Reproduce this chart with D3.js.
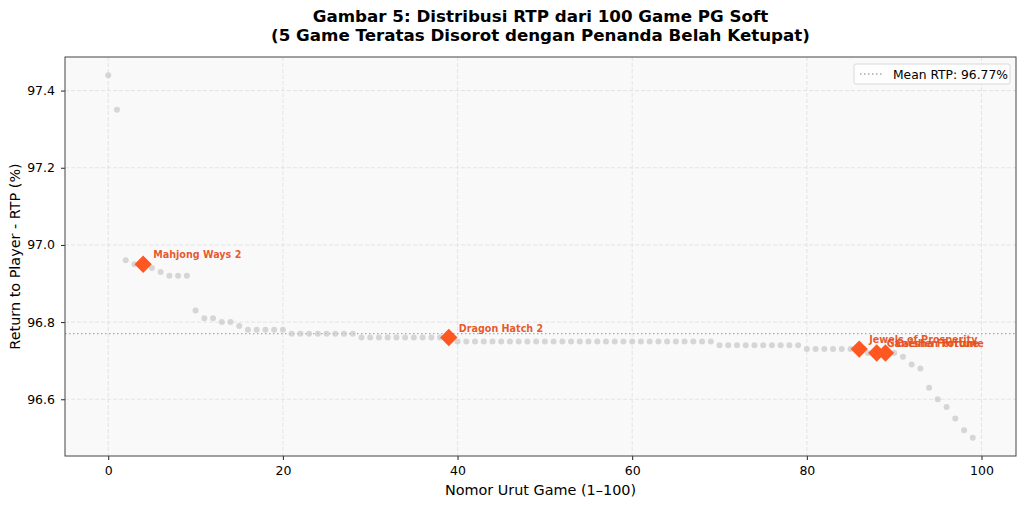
<!DOCTYPE html>
<html><head><meta charset="utf-8">
<script src="https://cdn.jsdelivr.net/npm/d3@7"></script>
<style>body{margin:0;background:#fff;} text{font-family:"DejaVu Sans",sans-serif;}</style>
</head><body><svg id="c" width="1024" height="506"></svg>
<script>
const rtpValues = [
 97.44, 97.35, 96.96, 96.95, 96.95, 96.94, 96.93, 96.92, 96.92, 96.92,
 96.83, 96.81, 96.81, 96.80, 96.80, 96.79, 96.78, 96.78, 96.78, 96.78,
 96.78, 96.77, 96.77, 96.77, 96.77, 96.77, 96.77, 96.77, 96.77, 96.76,
 96.76, 96.76, 96.76, 96.76, 96.76, 96.76, 96.76, 96.76, 96.76, 96.76,
 96.75, 96.75, 96.75, 96.75, 96.75, 96.75, 96.75, 96.75, 96.75, 96.75,
 96.75, 96.75, 96.75, 96.75, 96.75, 96.75, 96.75, 96.75, 96.75, 96.75,
 96.75, 96.75, 96.75, 96.75, 96.75, 96.75, 96.75, 96.75, 96.75, 96.75,
 96.74, 96.74, 96.74, 96.74, 96.74, 96.74, 96.74, 96.74, 96.74, 96.74,
 96.73, 96.73, 96.73, 96.73, 96.73, 96.73, 96.73, 96.72, 96.72, 96.72,
 96.72, 96.71, 96.69, 96.68, 96.63, 96.60, 96.58, 96.55, 96.52, 96.50
];
const topIndices = [4, 39, 86, 88, 89];
const topNames = ["Mahjong Ways 2", "Dragon Hatch 2", "Jewels of Prosperity", "Ganesha Fortune", "Caishen Fortune"];
const meanRTP = 96.77;
const xTicks = [0, 20, 40, 60, 80, 100];
const yTicks = [96.6, 96.8, 97.0, 97.2, 97.4];
const titleLines = ["Gambar 5: Distribusi RTP dari 100 Game PG Soft", "(5 Game Teratas Disorot dengan Penanda Belah Ketupat)"];
const xLabel = "Nomor Urut Game (1–100)";
const yLabel = "Return to Player - RTP (%)";
const legendLabel = "Mean RTP: 96.77%";

const L = 65, R = 1016, T = 57, B = 456;
const svg = d3.select("#c");
const n = rtpValues.length;
const xm = (n - 1) * 0.05;
const x = d3.scaleLinear().domain([-xm, n - 1 + xm]).range([L, R]);
const ymin = d3.min(rtpValues), ymax = d3.max(rtpValues), ym = (ymax - ymin) * 0.05;
const y = d3.scaleLinear().domain([ymin - ym, ymax + ym]).range([B, T]);

svg.append("rect").attr("x", L).attr("y", T).attr("width", R - L).attr("height", B - T).attr("fill", "#f9f9f9");

// grid
const g = svg.append("g");
g.selectAll(".vg").data(xTicks).join("line")
  .attr("x1", d => x(d)).attr("x2", d => x(d)).attr("y1", T).attr("y2", B)
  .attr("stroke", "#dedede").attr("stroke-width", 0.8).attr("stroke-dasharray", "4,2");
g.selectAll(".hg").data(yTicks).join("line")
  .attr("x1", L).attr("x2", R).attr("y1", d => y(d)).attr("y2", d => y(d))
  .attr("stroke", "#dedede").attr("stroke-width", 0.8).attr("stroke-dasharray", "4,2");

// mean line
svg.append("line").attr("x1", L).attr("x2", R).attr("y1", y(meanRTP)).attr("y2", y(meanRTP))
  .attr("stroke", "#aaaaaa").attr("stroke-width", 1.3).attr("stroke-dasharray", "1.5,2.5");

// points
svg.append("g").selectAll("circle").data(rtpValues).join("circle")
  .attr("cx", (d, i) => x(i)).attr("cy", d => y(d)).attr("r", 3)
  .attr("fill", "#c8c8c8").attr("fill-opacity", 0.7);

// highlights
const hl = topIndices.map((idx, k) => ({idx, v: rtpValues[idx], name: topNames[k]}));
const sym = d3.symbol().type(d3.symbolSquare).size(150);
svg.append("g").selectAll("path").data(hl).join("path")
  .attr("d", sym)
  .attr("transform", d => `translate(${x(d.idx)},${y(d.v)}) rotate(45)`)
  .attr("fill", "#FF5722");
svg.append("g").selectAll("text").data(hl).join("text")
  .attr("x", d => x(d.idx) + 10).attr("y", d => y(d.v) - 6)
  .attr("font-size", 9.6).attr("font-weight", "bold").attr("fill", "#E6501E").attr("fill-opacity", 0.95)
  .text(d => d.name);

// axes
const xa = svg.append("g").attr("transform", `translate(0,${B})`)
  .call(d3.axisBottom(x).tickValues(xTicks).tickSize(4).tickPadding(6).tickFormat(d3.format("d")));
const ya = svg.append("g").attr("transform", `translate(${L},0)`)
  .call(d3.axisLeft(y).tickValues(yTicks).tickSize(4).tickPadding(6).tickFormat(d3.format(".1f")));
[xa, ya].forEach(a => {
  a.select(".domain").remove();
  a.selectAll("text").attr("font-size", 12.5).attr("fill", "#000").attr("font-family", "DejaVu Sans");
  a.selectAll("line").attr("stroke", "#222").attr("stroke-width", 1);
});
svg.append("rect").attr("x", L).attr("y", T).attr("width", R - L).attr("height", B - T)
  .attr("fill", "none").attr("stroke", "#444").attr("stroke-width", 1);

// labels
svg.append("text").attr("x", (L + R) / 2).attr("y", 495).attr("text-anchor", "middle")
  .attr("font-size", 14.4).text(xLabel);
svg.append("text").attr("transform", `translate(20,${(T + B) / 2}) rotate(-90)`).attr("text-anchor", "middle")
  .attr("font-size", 14.4).text(yLabel);
svg.append("g").selectAll("text").data(titleLines).join("text")
  .attr("x", (L + R) / 2).attr("y", (d, i) => 22 + i * 18.5).attr("text-anchor", "middle")
  .attr("font-size", 16.7).attr("font-weight", "bold").text(d => d);

// legend
const lg = svg.append("g");
lg.append("rect").attr("x", 854).attr("y", 64).attr("width", 156).attr("height", 20).attr("rx", 2)
  .attr("fill", "#fff").attr("fill-opacity", 0.85).attr("stroke", "#d0d0d0").attr("stroke-width", 0.8);
lg.append("line").attr("x1", 860).attr("x2", 884).attr("y1", 74).attr("y2", 74)
  .attr("stroke", "#aaaaaa").attr("stroke-width", 1.3).attr("stroke-dasharray", "1.5,2.5");
lg.append("text").attr("x", 893).attr("y", 78.5).attr("font-size", 12.3).text(legendLabel);
</script></body></html>
